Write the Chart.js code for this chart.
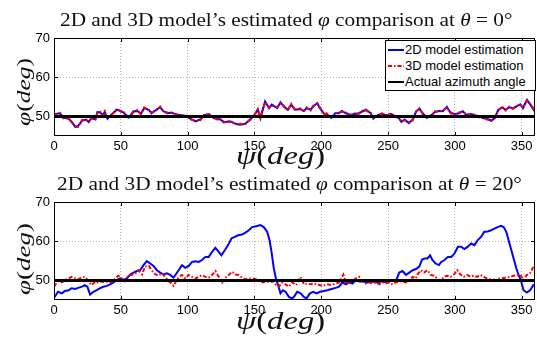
<!DOCTYPE html>
<html><head><meta charset="utf-8">
<script src="https://cdn.jsdelivr.net/npm/chart.js@4.4.0/dist/chart.umd.min.js"></script>
<style>
html,body{margin:0;padding:0;background:#fff;width:537px;height:338px;overflow:hidden;position:relative;}
canvas{position:absolute;left:0;}
.t{position:absolute;white-space:nowrap;font-family:'Liberation Serif','Times New Roman',serif;color:#111;font-size:19px;line-height:20px;transform-origin:0 0;}
.lab{position:absolute;white-space:nowrap;font-family:'Liberation Serif','Times New Roman',serif;color:#111;font-size:26px;line-height:28px;transform-origin:50% 50%;}
.ylab{font-size:18px;line-height:18px;}
.legend{position:absolute;left:385px;top:40px;width:149px;height:49px;border:1px solid #000;background:#fff;font-family:'Liberation Sans',Arial,sans-serif;font-size:13px;color:#000;}
.row{position:absolute;left:0;height:16px;line-height:16px;white-space:nowrap;}
.row svg{position:absolute;left:1px;top:0;}
.row span{position:absolute;left:19px;top:0;}
</style></head>
<body>
<canvas id="c1" width="537" height="170" style="top:0;width:537px;height:170px"></canvas>
<canvas id="c2" width="537" height="168" style="top:170px;width:537px;height:168px"></canvas>

<div class="t" id="t1">2D and 3D model’s estimated <i>φ</i> comparison at <i>θ</i> = 0°</div>
<div class="t" id="t2">2D and 3D model’s estimated <i>φ</i> comparison at <i>θ</i> = 20°</div>
<div class="lab" id="x1"><i>ψ</i>(<i>deg</i>)</div>
<div class="lab" id="x2"><i>ψ</i>(<i>deg</i>)</div>
<div class="lab ylab" id="y1"><i>φ</i>(<i>deg</i>)</div>
<div class="lab ylab" id="y2"><i>φ</i>(<i>deg</i>)</div>

<div class="legend">
  <div class="row" style="top:1px"><svg width="18" height="16"><line x1="1" y1="8" x2="17" y2="8" stroke="#0000ff" stroke-width="2"/></svg><span>2D model estimation</span></div>
  <div class="row" style="top:17px"><svg width="18" height="16"><line x1="1" y1="8" x2="17" y2="8" stroke="#ff0000" stroke-width="2" stroke-dasharray="4 2 1.5 2"/></svg><span>3D model estimation</span></div>
  <div class="row" style="top:33px"><svg width="18" height="16"><line x1="1" y1="8" x2="17" y2="8" stroke="#000" stroke-width="2"/></svg><span>Actual azimuth angle</span></div>
</div>

<script>
// ---------- DATA ----------
const X_TICKS = [0, 50, 100, 150, 200, 250, 300, 350];
const Y_TICKS = [50, 60, 70];
const ACTUAL_PSI = [0, 360];
const ACTUAL_PHI = [50, 50];

// theta = 0 deg
const TOP_PSI = [0,1,4.5,7,11,13,16,18,21,24,
  26,28,31,32.5,34.5,36.5,38,40,42.5,47,
  50,52.5,56,59.5,62.5,65,67.5,71,73,76.5,
  79.5,82,85,88,91.5,96,99.5,102,106,109.5,
  112.5,116,119.5,122,124.5,127,132,136,139.5,143,
  147,150,152.5,154.5,158,161,163,167,169.5,172,
  175,177.5,180.5,184,187,189,192,194,197,199,
  202,204,207.5,210.5,213,215.5,218.5,222,225,228,
  231,233.5,237,239,242.5,245.5,249,252.5,255.5,258,
  260,262.5,265.5,268.5,271,273.5,276,279,282.5,285,
  288,291,294,297,300.5,303,306,308.5,312,315,
  318,321,324,327.5,330,332.5,335.5,338,340.5,343.5,
  346,349,351,353,354,356.5,359,360];
const TOP_2D = [50.4,50.6,50.8,49.7,49.4,48.7,47.3,47.5,48.9,49.2,
  48.6,49.6,49.2,51.1,51.0,50.4,51.1,49.4,50.3,51.7,
  51.4,50.8,49.7,51.3,51.4,50.7,52.1,51.7,50.8,51.7,
  52.3,51.3,50.8,51.0,50.4,50.3,50.0,49.4,48.7,49.2,
  50.3,50.6,49.6,49.4,49.2,48.6,48.7,48.1,47.9,48.1,
  49.2,50.4,51.7,49.7,53.8,52.1,53.0,52.1,53.6,52.5,
  51.7,53.0,51.7,51.9,51.4,52.1,51.7,52.5,53.4,52.1,
  50.7,50.6,49.6,50.8,50.8,51.4,50.8,50.4,50.6,50.8,
  51.3,51.7,50.8,49.4,50.4,50.6,50.3,50.6,50.0,49.6,
  48.6,49.2,48.3,49.2,51.3,51.9,50.8,49.6,50.3,51.1,
  51.4,51.3,52.4,50.8,50.6,50.8,51.3,50.4,50.6,50.3,
  50.0,49.6,49.4,48.9,49.7,51.7,52.3,51.7,52.3,52.1,
  52.5,53.1,52.1,53.6,54.2,53.0,51.7,52.3];
const TOP_3D = [50.6,50.4,50.9,49.5,49.6,48.5,47.5,47.3,49.1,49.0,
  48.8,49.4,49.4,50.9,51.2,50.2,51.3,49.6,50.1,51.9,
  51.2,51.0,49.5,51.1,51.6,50.5,52.3,51.5,51.0,51.5,
  52.5,51.1,51.0,50.8,50.6,50.1,50.2,49.2,48.9,49.0,
  50.5,50.4,49.8,49.2,49.4,48.4,48.9,47.9,48.1,47.9,
  49.4,50.2,51.9,49.5,53.6,52.3,52.8,52.3,53.4,52.7,
  51.5,53.2,51.5,52.1,51.2,52.3,51.5,52.7,53.2,52.3,
  50.5,50.8,49.8,50.6,51.0,51.2,51.0,50.2,50.8,50.6,
  51.5,51.5,51.0,49.6,50.2,50.8,50.1,50.8,49.8,49.8,
  48.8,49.0,48.5,49.0,51.1,52.1,50.6,49.8,50.1,51.3,
  51.2,51.5,52.2,51.0,50.4,51.0,51.1,50.6,50.4,50.5,
  49.8,49.8,49.2,49.1,49.5,51.5,52.5,51.5,52.5,51.9,
  52.7,52.9,52.3,53.4,54.0,53.2,51.9,52.1];

// theta = 20 deg
const BOT_PSI_2D = [0,3,6,8,11,13,16,18,21,23,
  25,27,29.5,32,34.5,37,39.5,42,44.5,47,
  49.5,52,54.5,57,59.5,62,64.5,67,69.5,72,
  74.5,77,79.5,82,84.5,87,89.5,93.3,95.8,98.3,
  100.8,103.3,105.8,108.3,110.8,113.3,115.8,118.3,120.8,123.3,
  125.3,127.8,130.3,132.8,135.3,137.8,140.8,143.3,145.8,148.3,
  152,154.5,157,159.5,161.3,162.8,164.5,166.3,167.8,169.5,
  171.3,173.3,175.8,178.3,180,182,184.6,187,189,191.6,
  194,196.6,199,202,204.6,207.6,210.8,213.4,215.9,218.4,
  220.9,223.4,225.9,228.4,230.9,234.6,238.4,242.1,245.9,249.6,
  253.4,255.9,258.4,260.9,263.4,265.9,268.4,270.9,273.4,275.5,
  277.5,279.5,281.5,283.2,285.6,288.1,289.8,292.3,294.8,297.3,
  299.8,302.3,304.7,307.2,309.7,312.2,314.7,317.2,319.6,322.1,
  324.6,327.1,329.6,332,334.5,336.5,338.5,340.2,342,344,
  346,347.7,349.4,351.4,353.9,356.3,358.8,360];
const BOT_2D = [45.5,47.1,46.7,47.3,47.5,48.0,47.8,48.1,48.4,48.8,
  48.4,46.4,47.1,47.5,48.0,48.4,48.6,49.0,49.5,50.1,
  50.5,50.1,50.5,51.5,52.0,52.4,52.6,53.9,54.9,54.3,
  53.7,52.6,52.0,51.5,51.8,51.4,50.7,52.6,53.9,53.2,
  53.7,54.7,54.9,54.7,55.2,56.0,56.0,57.3,58.3,57.3,
  56.4,57.7,59.0,60.7,61.1,61.5,61.7,62.2,62.8,63.6,
  63.9,64.1,63.6,62.4,60.3,57.3,53.1,50.1,48.8,46.7,
  47.5,47.1,45.8,45.4,46.0,47.1,46.7,45.8,45.4,46.7,
  47.1,46.7,47.1,47.3,47.5,47.8,48.1,48.4,49.5,49.0,
  49.5,49.2,50.1,49.7,49.8,49.5,49.7,49.5,49.8,49.5,
  50.1,49.8,52.0,52.4,51.4,52.0,52.6,52.9,53.5,55.3,
  55.6,55.6,56.4,55.2,54.3,53.9,54.7,55.2,56.0,56.0,
  56.9,58.6,58.6,58.0,58.6,59.4,59.0,60.3,61.1,62.4,
  62.5,62.8,63.2,63.6,63.9,63.6,62.4,60.3,58.1,55.6,
  53.1,51.4,50.1,47.5,46.9,47.5,48.8,48.8];
const BOT_PSI_3D = [0,3,6,8,11,13,16,18,21,23,
  26,28,31,33,36,38,41,43,46,48,
  51,53,56,58,61,63,66,68,71,73,
  76,78,81,83,86,88,89.5,91,93.3,95.8,
  98.3,100.8,103.3,105.8,108.3,110.8,113.3,115.8,118.3,120.8,
  123.3,125.8,128.3,130.8,133.3,135.8,138.3,140.8,143.3,147,
  151,154,156.3,158.8,161.3,163.8,166.3,168.3,170.8,173.3,
  175.8,178.3,181.3,184.6,187,189.6,192,194.6,197,200.9,
  204.6,207.6,210.8,213.4,216.6,218.4,220.9,223.4,225.9,228.4,
  230.9,233.4,235.9,238.4,240.9,243.4,245.9,248.4,250.9,253.4,
  255.9,259.6,263.4,265.9,268.4,270.9,272,274.5,277,279.5,
  282,284.4,286.9,289.4,291.8,294.3,296.8,299.3,301.8,304.2,
  306.7,309.2,311.7,314.2,316.6,319.1,321.6,324.1,326.6,330.3,
  334,337.7,341.5,344,346.5,348.9,351.4,353.9,356.3,358.8,360];
const BOT_3D = [48.4,49.8,49.5,50.1,50.5,50.9,50.5,50.3,50.7,50.9,
  49.8,48.8,49.7,49.5,49.7,49.5,49.8,49.5,50.5,51.2,
  50.5,49.8,51.4,51.4,51.8,52.6,51.5,53.5,53.7,52.6,
  51.5,51.2,51.8,50.9,49.8,49.2,48.6,49.5,50.9,51.4,
  50.5,51.4,50.9,50.5,50.9,51.4,50.9,50.7,51.4,52.4,
  50.9,49.5,50.7,51.4,52.2,51.5,51.4,50.7,50.3,50.5,
  50.3,49.7,49.5,49.8,49.5,49.8,48.8,48.4,49.5,49.0,
  48.4,49.5,48.8,50.9,49.0,49.2,49.0,49.2,49.0,48.6,
  49.0,48.8,49.2,49.5,51.5,49.5,49.5,49.8,50.5,50.9,
  49.7,49.2,49.5,49.2,49.5,49.0,49.5,49.2,49.5,49.0,
  49.5,49.8,49.5,50.1,50.9,50.5,51.5,52.6,52.0,52.6,
  51.4,51.2,50.5,49.8,50.9,51.2,50.9,51.5,52.6,51.5,
  50.9,51.4,50.9,51.2,50.9,51.4,50.9,50.5,50.3,50.1,
  50.5,50.7,50.9,51.2,51.4,51.5,50.1,51.4,51.8,53.5,53.9];

// ---------- CHART ----------
const pts = (xs, ys) => xs.map((x, i) => ({x, y: ys[i]}));
const TICK_FONT = {family: "'Liberation Sans', Arial, sans-serif", size: 13};

const framePlugin = {
  id: 'frame',
  afterDatasetsDraw(chart) {
    const {ctx, chartArea: a, scales: {x, y}} = chart;
    ctx.save();
    ctx.strokeStyle = '#000';
    ctx.lineWidth = 1;
    ctx.beginPath();
    const L = 4;
    x.ticks.forEach(t => {
      const p = Math.round(x.getPixelForValue(t.value)) + 0.5;
      ctx.moveTo(p, a.top); ctx.lineTo(p, a.top + L);
      ctx.moveTo(p, a.bottom); ctx.lineTo(p, a.bottom - L);
    });
    y.ticks.forEach(t => {
      const p = Math.round(y.getPixelForValue(t.value)) + 0.5;
      ctx.moveTo(a.left, p); ctx.lineTo(a.left + L, p);
      ctx.moveTo(a.right, p); ctx.lineTo(a.right - L, p);
    });
    ctx.stroke();
    ctx.strokeRect(Math.round(a.left) + 0.5, Math.round(a.top) + 0.5,
      Math.round(a.right - a.left) - 1, Math.round(a.bottom - a.top) - 1);
    ctx.restore();
  }
};

function makeChart(id, psi2, v2, psi3, v3, padTop, xAxisH) {
  return new Chart(document.getElementById(id), {
    type: 'line',
    data: {
      datasets: [
        {label: '2D model estimation', data: pts(psi2, v2), borderColor: '#0000ff',
         borderWidth: 2, pointRadius: 0, tension: 0, order: 2},
        {label: '3D model estimation', data: pts(psi3, v3), borderColor: '#ff0000',
         borderWidth: 2, borderDash: [4, 2, 1.5, 2], pointRadius: 0, tension: 0, order: 1},
        {label: 'Actual azimuth angle', data: pts(ACTUAL_PSI, ACTUAL_PHI), borderColor: '#000000',
         borderWidth: 3, pointRadius: 0, tension: 0, order: 0}
      ]
    },
    options: {
      responsive: false,
      animation: false,
      events: [],
      layout: {padding: {top: padTop, right: 2, left: 0, bottom: 0}},
      plugins: {legend: {display: false}, tooltip: {enabled: false}, title: {display: false}},
      scales: {
        x: {
          type: 'linear', min: 0, max: 360,
          afterBuildTicks: s => { s.ticks = X_TICKS.map(v => ({value: v})); },
          afterFit: s => { s.height = xAxisH; },
          ticks: {font: TICK_FONT, color: '#000', padding: 3, maxRotation: 0, autoSkip: false},
          grid: {color: '#b4b4b4', lineWidth: 1, drawTicks: false},
          border: {display: false, dash: [1, 2]}
        },
        y: {
          type: 'linear', min: 45, max: 70,
          afterBuildTicks: s => { s.ticks = Y_TICKS.map(v => ({value: v})); },
          afterFit: s => { s.width = 54; },
          ticks: {font: TICK_FONT, color: '#000', padding: 4},
          grid: {color: '#b4b4b4', lineWidth: 1, drawTicks: false},
          border: {display: false, dash: [1, 2]}
        }
      }
    },
    plugins: [framePlugin]
  });
}

makeChart('c1', TOP_PSI, TOP_2D, TOP_PSI, TOP_3D, 38, 34);
makeChart('c2', BOT_PSI_2D, BOT_2D, BOT_PSI_3D, BOT_3D, 32, 38);

// ---------- TEXT PLACEMENT ----------
function fitH(id, cx, top, width) {
  const el = document.getElementById(id);
  const w = el.offsetWidth;
  el.style.left = (cx - width / 2) + 'px';
  el.style.top = top + 'px';
  el.style.transformOrigin = '0 0';
  el.style.transform = 'scaleX(' + (width / w) + ')';
}
function fitCenter(id, cx, cy, width, rotate) {
  const el = document.getElementById(id);
  const w = el.offsetWidth, h = el.offsetHeight;
  el.style.left = (cx - w / 2) + 'px';
  el.style.top = (cy - h / 2) + 'px';
  el.style.transform = (rotate ? 'rotate(-90deg) ' : '') + 'scaleX(' + (width / w) + ')';
}
fitH('t1', 286, 10, 452);
fitH('t2', 289.5, 174, 465);
fitCenter('x1', 280.5, 156, 89, false);
fitCenter('x2', 280.5, 321, 89, false);
fitCenter('y1', 24, 92, 68, true);
fitCenter('y2', 24, 259, 72, true);
</script>
</body></html>
